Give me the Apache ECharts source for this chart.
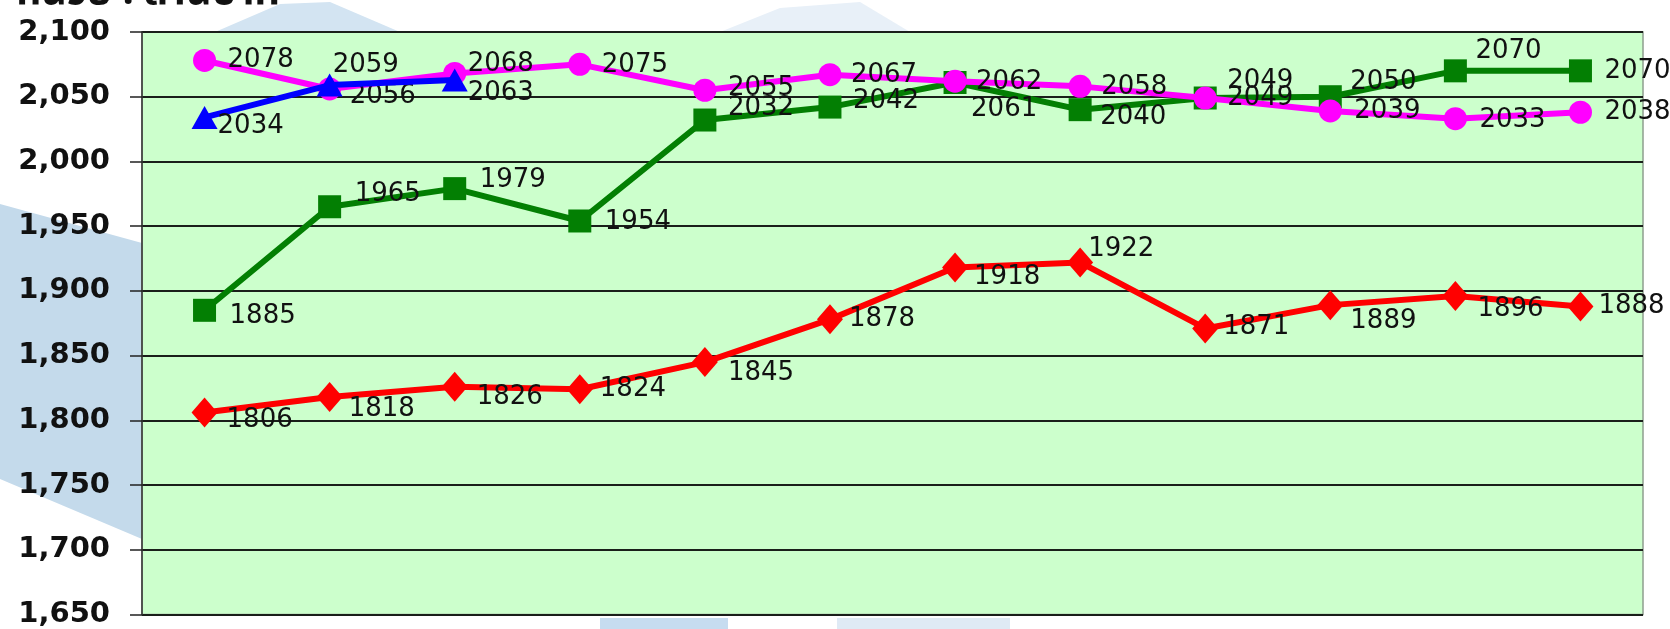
<!DOCTYPE html>
<html>
<head>
<meta charset="utf-8">
<script src="https://cdn.jsdelivr.net/npm/echarts@6/dist/echarts.min.js"></script>
<style>
html,body{margin:0;padding:0;background:#fff;}
#c{width:1670px;height:629px;}
</style>
</head>
<body>
<div id="c"></div>
<script>
// ---- data ----
const categories = ['ม.ค.','ก.พ.','มี.ค.','เม.ย.','พ.ค.','มิ.ย.','ก.ค.','ส.ค.','ก.ย.','ต.ค.','พ.ย.','ธ.ค.'];
const redValues     = [1806,1818,1826,1824,1845,1878,1918,1922,1871,1889,1896,1888];
const greenValues   = [1885,1965,1979,1954,2032,2042,2061,2040,2049,2050,2070,2070];
const magentaValues = [2078,2056,2068,2075,2055,2067,2062,2058,2049,2039,2033,2038];
const blueValues    = [2034,2059,2063];
const unitTitle = 'หน่วย : ล้านบาท';
const yMin = 1650, yMax = 2100, yStep = 50;

// ---- label placement (style only: label left edge / centre offset from its marker centre) ----
const redShift     = [[22,8],[19,12],[22,11],[20,0],[23,11],[19,0],[19,10],[8,-13],[18,-1],[20,16],[22,13],[18,0]];
const greenShift   = [[25,6],[25,-13],[25,-8],[25,1],[23,-12],[23,-6],[16,27],[20,8],[22,-17],[20,-14],[20,-20],[24,0]];
const magentaShift = [[23,0],[20,7],[13,-9],[22,1],[23,-2],[21,1],[21,1],[21,1],[22,0],[24,0],[24,2],[24,0]];
const blueShift    = [[13,9],[3,-20],[13,13]];

const labelFont = "'DejaVu Sans',sans-serif";

function build(values, shifts, w) {
  return values.map((v, i) => ({
    value: v,
    label: { offset: [shifts[i][0] - w / 2, shifts[i][1]] }
  }));
}

function series(name, values, shifts, color, symbol, size, z) {
  const w = Array.isArray(size) ? size[0] : size;
  return {
    name, type: 'line', data: build(values, shifts, w), z,
    symbol, symbolSize: size, showAllSymbol: true,
    lineStyle: { color, width: 6 },
    itemStyle: { color, borderWidth: 0 },
    label: {
      show: true, position: 'right', distance: 0, align: 'left', verticalAlign: 'middle',
      color: '#111', fontSize: 26, fontFamily: labelFont
    },
    emphasis: { disabled: true },
    animation: false
  };
}

const chart = echarts.init(document.getElementById('c'), null, { renderer: 'canvas' });
chart.setOption({
  backgroundColor: '#ffffff',
  animation: false,
  graphic: [
    { type: 'polygon', z: -5, shape: { points: [[0,204],[142,243],[142,539],[0,479]] }, style: { fill: '#c4daeb' } },
    { type: 'polygon', z: -5, shape: { points: [[215,32],[280,4],[330,2],[400,32]] }, style: { fill: '#d3e4f2' } },
    { type: 'polygon', z: -5, shape: { points: [[720,32],[780,8],[860,2],[910,32]] }, style: { fill: '#e8f0f8' } },
    { type: 'rect', z: -5, shape: { x: 600, y: 618, width: 128, height: 11 }, style: { fill: '#c6dcf0' } },
    { type: 'rect', z: -5, shape: { x: 837, y: 618, width: 173, height: 11 }, style: { fill: '#dfeaf5' } },
    { type: 'text', z: 10, left: 16, top: -24,
      style: { text: unitTitle, font: "bold 40px 'Noto Sans Thai','Noto Sans','DejaVu Sans',sans-serif", fill: '#111' } }
  ],
  grid: {
    left: 142, right: 27, top: 32, bottom: 11,
    show: true, backgroundColor: '#ccffcc', borderColor: '#8f9f8f', borderWidth: 1.5
  },
  xAxis: {
    type: 'category', data: categories, boundaryGap: true,
    axisLine: { show: false }, axisTick: { show: false }, axisLabel: { show: false },
    splitLine: { show: false }
  },
  yAxis: {
    type: 'value', min: yMin, max: yMax, interval: yStep,
    axisLine: { show: true, lineStyle: { color: '#333', width: 1.5 } },
    axisTick: { show: true, length: 12, lineStyle: { color: '#222', width: 1.5 } },
    axisLabel: {
      margin: 32, color: '#111', fontSize: 29, fontWeight: 'bold',
      fontFamily: "'DejaVu Sans',sans-serif",
      formatter: v => v.toLocaleString('en-US')
    },
    splitLine: { show: true, lineStyle: { color: '#1a1f1a', width: 2 } }
  },
  series: [
    series('2553', redValues, redShift, '#ff0000', 'diamond', [26, 30], 2),
    series('2554', greenValues, greenShift, '#037f03', 'rect', 23, 3),
    series('2555', magentaValues, magentaShift, '#ff00ff', 'circle', 23, 4),
    series('2556', blueValues, blueShift, '#0000ff', 'triangle', [26, 23], 5)
  ]
});
</script>
</body>
</html>
